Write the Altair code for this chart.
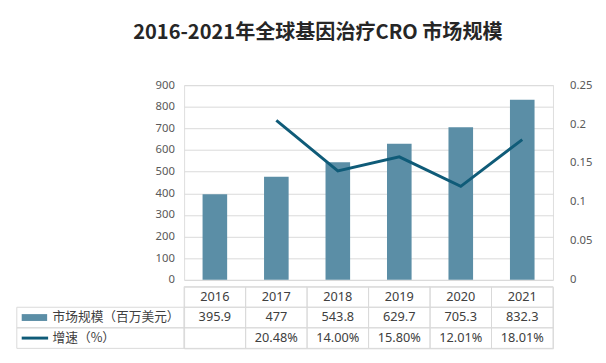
import altair as alt
import pandas as pd

# ---- data ----
years = ["2016", "2017", "2018", "2019", "2020", "2021"]
market = [395.9, 477, 543.8, 629.7, 705.3, 832.3]          # 市场规模（百万美元）
growth = [None, 0.2048, 0.1400, 0.1580, 0.1201, 0.1801]    # 增速
row_labels = [" ", "市场规模（百万美元）", "增速（%）"]
left_ticks = [0, 100, 200, 300, 400, 500, 600, 700, 800, 900]
right_ticks = [0, 0.05, 0.1, 0.15, 0.2, 0.25]
title_text = "2016-2021年全球基因治疗CRO 市场规模"

# ---- style ----
BAR = "#5b8ea6"
LINE = "#0f5b78"
GRID = "#d9d9d9"
TXT = "#404040"
AXT = "#595959"
FONT = "Noto Sans CJK SC"
NUMFONT = "Noto Sans"

df = pd.DataFrame({"year": years, "market": market, "growth": growth})

xs = alt.Scale(domain=years, paddingInner=0.6, paddingOuter=0.3)

bars = alt.Chart(df).mark_bar(color=BAR).encode(
    x=alt.X("year:N", scale=xs, axis=None),
    y=alt.Y("market:Q", scale=alt.Scale(domain=[0, 900]),
            axis=alt.Axis(values=left_ticks, title=None, domain=False, ticks=False,
                          grid=True, gridColor=GRID, labelColor=AXT, labelFontSize=11.5,
                          labelPadding=10, labelFont=NUMFONT)),
)

line = alt.Chart(df).transform_filter("isValid(datum.growth)").mark_line(
    color=LINE, strokeWidth=3
).encode(
    x=alt.X("year:N", scale=xs, axis=None),
    y=alt.Y("growth:Q", scale=alt.Scale(domain=[0, 0.25]),
            axis=alt.Axis(orient="right", values=right_ticks, format=".2~f", title=None,
                          domain=False, ticks=False, grid=False, labelColor=AXT,
                          labelFontSize=11.5, labelPadding=17, labelFont=NUMFONT)),
)

top = alt.layer(bars, line).resolve_scale(y="independent").properties(width=377, height=199)

# ---- table ----
cells = []
for i, y in enumerate(years):
    cells.append({"year": y, "row": row_labels[0], "text": y})
    cells.append({"year": y, "row": row_labels[1], "text": f"{market[i]:g}"})
    cells.append({"year": y, "row": row_labels[2],
                  "text": "" if growth[i] is None else f"{growth[i] * 100:.2f}%"})
cells_df = pd.DataFrame(cells)

ys = alt.Scale(domain=row_labels, paddingInner=0, paddingOuter=0)
xt = alt.Scale(domain=years, paddingInner=0, paddingOuter=0)

cell_rect = alt.Chart(cells_df).mark_rect(fillOpacity=0, stroke=GRID, strokeWidth=1).encode(
    x=alt.X("year:N", scale=xt, axis=None),
    y=alt.Y("row:N", scale=ys,
            axis=alt.Axis(title=None, domain=False, ticks=False, labelAlign="left",
                          labelPadding=135, labelFontSize=13, labelColor=TXT,
                          labelFont=FONT, labelLimit=200)),
)

label_df = pd.DataFrame({"row": row_labels[1:]})
label_rect = alt.Chart(label_df).mark_rect(fillOpacity=0, stroke=GRID, strokeWidth=1).encode(
    x=alt.value(-171), x2=alt.value(0),
    y=alt.Y("row:N", scale=ys),
)

sym_bar = alt.Chart(pd.DataFrame({"row": [row_labels[1]]})).mark_rule(
    color=BAR, strokeWidth=7, strokeCap="butt"
).encode(
    x=alt.value(-166), x2=alt.value(-140),
    y=alt.Y("row:N", scale=ys, bandPosition=0.5),
)
sym_line = alt.Chart(pd.DataFrame({"row": [row_labels[2]]})).mark_rule(
    color=LINE, strokeWidth=3, strokeCap="butt"
).encode(
    x=alt.value(-166), x2=alt.value(-139),
    y=alt.Y("row:N", scale=ys, bandPosition=0.5),
)

cell_text = alt.Chart(cells_df).mark_text(fontSize=13, color=TXT, font=NUMFONT).encode(
    x=alt.X("year:N", scale=xt, axis=None),
    y=alt.Y("row:N", scale=ys),
    text="text:N",
)

table = alt.layer(cell_rect, label_rect, sym_bar, sym_line, cell_text).properties(
    width=377, height=63
)

chart = alt.vconcat(top, table, spacing=0).properties(
    title=alt.TitleParams(title_text, font=FONT, fontSize=20.5, fontWeight="bold",
                          color="#262626", anchor="middle", dx=14, offset=36),
    padding={"left": 8, "top": 12, "right": 5, "bottom": 5},
).configure_view(stroke=None).configure(background="white", font=FONT)

chart.save("out.html", embed_options={"renderer": "svg", "actions": False})
